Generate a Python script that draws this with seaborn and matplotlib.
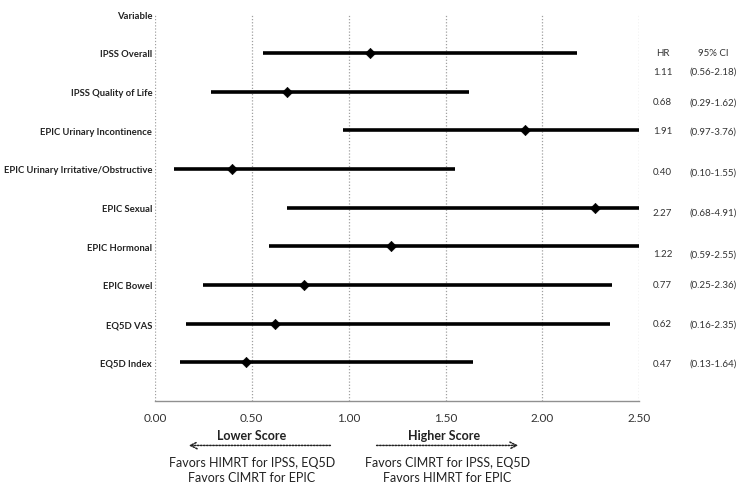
import pandas as pd
import matplotlib.pyplot as plt
import seaborn as sns

variaveis = ['IPSS Overall', 'IPSS Quality of Life', 'EPIC Urinary Incontinence',
             'EPIC Urinary Irritative/Obstructive', 'EPIC Sexual', 'EPIC Hormonal',
             'EPIC Bowel', 'EQ5D VAS', 'EQ5D Index']
hr = [1.11, 0.68, 1.91, 0.40, 2.27, 1.22, 0.77, 0.62, 0.47]
ci_low = [0.56, 0.29, 0.97, 0.10, 0.68, 0.59, 0.25, 0.16, 0.13]
ci_high = [2.18, 1.62, 3.76, 1.55, 4.91, 2.55, 2.36, 2.35, 1.64]
ticks_x = [0.0, 0.5, 1.0, 1.5, 2.0, 2.5]

# posicao vertical das colunas de texto (nao ficam alinhadas com as linhas no original)
desloc_texto = [0.47, 0.27, 0.02, 0.08, 0.12, 0.20, -0.02, 0.01, 0.02]

df = pd.DataFrame({'Variavel': variaveis, 'HR': hr, 'low': ci_low, 'high': ci_high})
df['pos'] = range(1, len(df) + 1)

sns.set_theme(style="white")
plt.rcParams['font.family'] = ['Lato', 'DejaVu Sans']

fig = plt.figure(figsize=(7.45, 4.89), dpi=100)
ax = fig.add_axes([0.208, 0.178, 0.650, 0.791])

for x in ticks_x:
    ax.axvline(x, color='#a0a0a0', linestyle=(0, (1, 1.5)), linewidth=0.9, zorder=0)

ax.hlines(df['pos'], df['low'], df['high'].clip(upper=2.5), color='black', linewidth=2.6, zorder=2)
sns.scatterplot(data=df, x='HR', y='pos', marker='D', color='black', s=28,
                edgecolor='black', ax=ax, zorder=3, legend=False)

ax.set_xlim(0, 2.5)
ax.set_ylim(10, 0)
ax.set_xticks(ticks_x)
ax.set_xticklabels([f'{t:.2f}' for t in ticks_x], fontsize=8.5, color='#333333')
ax.set_yticks(range(0, len(variaveis) + 1))
ax.set_yticklabels(['Variable'] + variaveis, fontsize=6.8, fontweight='bold', color='#222222')
ax.tick_params(axis='x', direction='in', length=4, color='#909090', pad=8)
ax.tick_params(axis='y', length=0, pad=2)
ax.set_xlabel('')
ax.set_ylabel('')
for lado in ['top', 'right', 'left']:
    ax.spines[lado].set_visible(False)
ax.spines['bottom'].set_color('#909090')
ax.spines['bottom'].set_linewidth(1.0)

# colunas HR e IC
ax.text(2.62, 1.0, 'HR', fontsize=7, ha='center', va='center', color='#333333', clip_on=False)
ax.text(2.88, 1.0, '95% CI', fontsize=7, ha='center', va='center', color='#333333', clip_on=False)
for i in range(len(df)):
    y = df['pos'][i] + desloc_texto[i]
    ax.text(2.62, y, f'{hr[i]:.2f}', fontsize=7, ha='center', va='center',
            color='#333333', clip_on=False)
    ax.text(2.88, y, f'({ci_low[i]:.2f}-{ci_high[i]:.2f})', fontsize=7, ha='center',
            va='center', color='#333333', clip_on=False)

# legendas de direcao abaixo do eixo
trans = ax.get_xaxis_transform()
ax.text(0.50, -0.088, 'Lower Score', transform=trans, ha='center', va='center',
        fontsize=9, fontweight='bold', color='#222222')
ax.text(1.49, -0.088, 'Higher Score', transform=trans, ha='center', va='center',
        fontsize=9, fontweight='bold', color='#222222')
ax.annotate('', xy=(0.16, -0.115), xytext=(0.92, -0.115), xycoords=trans, textcoords=trans,
            arrowprops=dict(arrowstyle='->', linestyle=(0, (1, 1)), color='#222222', lw=1.1))
ax.annotate('', xy=(1.89, -0.115), xytext=(1.13, -0.115), xycoords=trans, textcoords=trans,
            arrowprops=dict(arrowstyle='->', linestyle=(0, (1, 1)), color='#222222', lw=1.1))
ax.text(0.50, -0.158, 'Favors HIMRT for IPSS, EQ5D', transform=trans, ha='center', va='center',
        fontsize=9, color='#222222')
ax.text(0.50, -0.196, 'Favors CIMRT for EPIC', transform=trans, ha='center', va='center',
        fontsize=9, color='#222222')
ax.text(1.51, -0.158, 'Favors CIMRT for IPSS, EQ5D', transform=trans, ha='center', va='center',
        fontsize=9, color='#222222')
ax.text(1.51, -0.196, 'Favors HIMRT for EPIC', transform=trans, ha='center', va='center',
        fontsize=9, color='#222222')

plt.savefig('out.png', dpi=100)
